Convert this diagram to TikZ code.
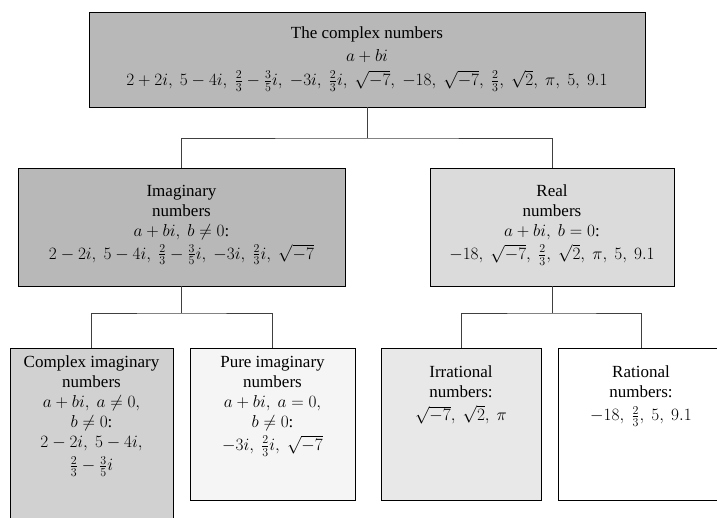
\documentclass[tikz,border=0pt]{standalone}
\usepackage{fontspec}
\setmainfont{Liberation Serif}
\usepackage{xcolor}
\usetikzlibrary{positioning}
\definecolor{tonedark}{gray}{0.72}
\definecolor{tonemid}{gray}{0.82}
\definecolor{tonereal}{gray}{0.86}
\definecolor{tonelight}{gray}{0.91}
\definecolor{tonepale}{gray}{0.96}

\begin{document}
\begin{tikzpicture}[x=1pt, y=-1pt, font=\fontsize{17}{20}\selectfont,
  numbox/.style={draw, line width=0.9pt, inner sep=0pt},
  numtext/.style={align=center, inner sep=0pt},
  link/.style={draw=black!75, line width=0.6pt}]
  \useasboundingbox (0,0) rectangle (717,518);
  \node[numbox, fill=tonedark, minimum width=556pt, minimum height=95pt] (complex) at (367,59.5) {};
  \node[numbox, fill=tonedark, minimum width=327pt, minimum height=118pt] (imag) at (181.5,227) {};
  \node[numbox, fill=tonereal, minimum width=244pt, minimum height=118pt] (real) at (552,227) {};
  \node[numbox, fill=tonemid, minimum width=163pt, minimum height=190pt, anchor=north] (cimag) at (91.5,348) {};
  \node[numbox, fill=tonepale, minimum width=165pt, minimum height=152pt, anchor=north] (pimag) at (272.5,348) {};
  \node[numbox, fill=tonelight, minimum width=160pt, minimum height=152pt, anchor=north] (irr) at (461,348) {};
  \node[numbox, fill=white, minimum width=166pt, minimum height=152pt, anchor=north] (rat) at (641,348) {};

  \node[numtext, below=15pt of complex.north] (complextext) {The complex numbers\\[3pt] $a+bi$\\[4pt]
    $2+2i,\ 5-4i,\ \frac{2}{3}-\frac{3}{5}i,\ -3i,\ \frac{2}{3}i,\ \sqrt{-7},\ -18,\ \sqrt{-7},\ \frac{2}{3},\ \sqrt{2},\ \pi,\ 5,\ 9.1$};
  \node[numtext, below=17pt of imag.north] (imagtext) {Imaginary\\ numbers\\ $a+bi,\ b\neq 0$:\\[3pt]
    $2-2i,\ 5-4i,\ \frac{2}{3}-\frac{3}{5}i,\ -3i,\ \frac{2}{3}i,\ \sqrt{-7}$};
  \node[numtext, below=17pt of real.north] (realtext) {Real\\ numbers\\ $a+bi,\ b=0$:\\[3pt]
    $-18,\ \sqrt{-7},\ \frac{2}{3},\ \sqrt{2},\ \pi,\ 5,\ 9.1$};
  \node[numtext, below=8pt of cimag.north] (cimagtext) {Complex imaginary\\ numbers\\ $a+bi,\ a\neq 0,$\\ $b\neq 0$:\\
    $2-2i,\ 5-4i,$\\[3pt] $\frac{2}{3}-\frac{3}{5}i$};
  \node[numtext, below=8pt of pimag.north] (pimagtext) {Pure imaginary\\ numbers\\ $a+bi,\ a=0,$\\ $b\neq 0$:\\[3pt]
    $-3i,\ \frac{2}{3}i,\ \sqrt{-7}$};
  \node[numtext, below=18pt of irr.north] (irrtext) {Irrational\\ numbers:\\[3pt] $\sqrt{-7},\ \sqrt{2},\ \pi$};
  \node[numtext, below=18pt of rat.north] (rattext) {Rational\\ numbers:\\[3pt] $-18,\ \frac{2}{3},\ 5,\ 9.1$};

  \coordinate (topsplit) at (367,138);
  \coordinate (imagsplit) at (181.5,313);
  \coordinate (realsplit) at (552,313);
  \draw[link] (complex.south) -- (topsplit);
  \draw[link] (imag.north) |- (topsplit) -| (real.north);
  \draw[link] (imag.south) -- (imagsplit);
  \draw[link] (cimag.north) |- (imagsplit) -| (pimag.north);
  \draw[link] (real.south) -- (realsplit);
  \draw[link] (irr.north) |- (realsplit) -| (rat.north);
\end{tikzpicture}
\end{document}
